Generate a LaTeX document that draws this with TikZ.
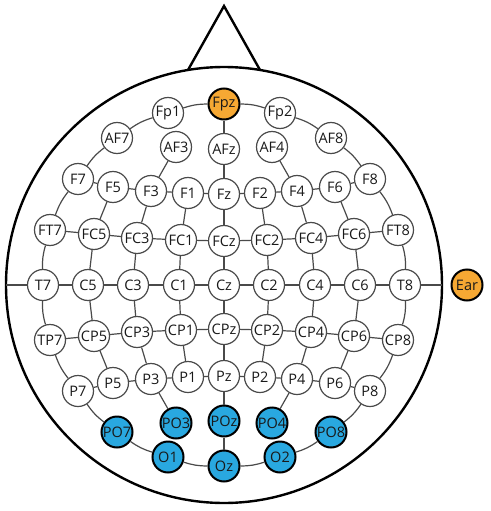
\documentclass[tikz,border=0pt]{standalone}
\usepackage{fontspec}
\setmainfont{Open Sans}
\definecolor{eegblue}{HTML}{29A8E0}
\definecolor{eegorange}{HTML}{F6A833}
\definecolor{linegray}{HTML}{4A4A4A}
\begin{document}
\begin{tikzpicture}[x=1pt,y=1pt,
  el/.style={circle,draw=linegray,line width=1.2pt,fill=white,minimum size=31pt,inner sep=0pt,font=\fontsize{14.5}{14.5}\selectfont,text=black!90},
  blueel/.style={el,draw=black,line width=2pt,fill=eegblue},
  orangeel/.style={el,draw=black,line width=2pt,fill=eegorange},
  conn/.style={draw=linegray,line width=1.2pt},
  ring/.style={conn,bend right=9},
  headline/.style={draw=black,line width=2.4pt}]
\useasboundingbox (0,0) rectangle (490,-511);
% head
\coordinate (hc) at (224,-285);
\coordinate (apex) at (224,-6);
\coordinate (noseL) at (188,-70);
\coordinate (noseR) at (260,-70);
\coordinate (headL) at (6,-285);
\coordinate (headR) at (442,-285);
\draw[headline] (hc) circle[radius=218];
\draw[headline,line join=miter] (noseL) -- (apex) -- (noseR);
% nodes
\node[orangeel] (Fpz) at (224,-104) {Fpz};
\node[el] (Fp1) at (168,-113) {Fp1};
\node[el] (Fp2) at (280,-113) {Fp2};
\node[el] (AF7) at (117,-138) {AF7};
\node[el] (AF3) at (176,-147) {AF3};
\node[el] (AFz) at (224,-149) {AFz};
\node[el] (AF4) at (272,-147) {AF4};
\node[el] (AF8) at (331,-138) {AF8};
\node[el] (F7) at (78,-179) {F7};
\node[el] (F5) at (113,-187) {F5};
\node[el] (F3) at (151,-191) {F3};
\node[el] (F1) at (188,-193) {F1};
\node[el] (Fz) at (224,-194) {Fz};
\node[el] (F2) at (260,-193) {F2};
\node[el] (F4) at (297,-191) {F4};
\node[el] (F6) at (335,-187) {F6};
\node[el] (F8) at (370,-179) {F8};
\node[el] (FT7) at (50,-230) {FT7};
\node[el] (FC5) at (94,-234) {FC5};
\node[el] (FC3) at (137,-238) {FC3};
\node[el] (FC1) at (181,-240) {FC1};
\node[el] (FCz) at (224,-241) {FCz};
\node[el] (FC2) at (267,-240) {FC2};
\node[el] (FC4) at (311,-238) {FC4};
\node[el] (FC6) at (354,-234) {FC6};
\node[el] (FT8) at (398,-230) {FT8};
\node[el] (T7) at (43,-285) {T7};
\node[el] (C5) at (88,-285) {C5};
\node[el] (C3) at (133,-285) {C3};
\node[el] (C1) at (179,-285) {C1};
\node[el] (Cz) at (224,-285) {Cz};
\node[el] (C2) at (269,-285) {C2};
\node[el] (C4) at (315,-285) {C4};
\node[el] (C6) at (360,-285) {C6};
\node[el] (T8) at (405,-285) {T8};
\node[el] (TP7) at (50,-340) {TP7};
\node[el] (CP5) at (94,-336) {CP5};
\node[el] (CP3) at (137,-332) {CP3};
\node[el] (CP1) at (181,-330) {CP1};
\node[el] (CPz) at (224,-329) {CPz};
\node[el] (CP2) at (267,-330) {CP2};
\node[el] (CP4) at (311,-332) {CP4};
\node[el] (CP6) at (354,-336) {CP6};
\node[el] (CP8) at (398,-340) {CP8};
\node[el] (P7) at (78,-391) {P7};
\node[el] (P5) at (113,-383) {P5};
\node[el] (P3) at (151,-379) {P3};
\node[el] (P1) at (188,-377) {P1};
\node[el] (Pz) at (224,-376) {Pz};
\node[el] (P2) at (260,-377) {P2};
\node[el] (P4) at (297,-379) {P4};
\node[el] (P6) at (335,-383) {P6};
\node[el] (P8) at (370,-391) {P8};
\node[blueel] (PO7) at (117,-432) {PO7};
\node[blueel] (PO3) at (176,-423) {PO3};
\node[blueel] (POz) at (224,-421) {POz};
\node[blueel] (PO4) at (272,-423) {PO4};
\node[blueel] (PO8) at (331,-432) {PO8};
\node[blueel] (O1) at (168,-457) {O1};
\node[blueel] (Oz) at (224,-466) {Oz};
\node[blueel] (O2) at (280,-457) {O2};
\begin{scope}
\clip (400,-250) rectangle (484,-320);
\node[orangeel] (Ear) at (467,-285) {Ear};
\end{scope}
% ring (counterclockwise)
\draw[ring] (Fpz) to (Fp1);
\draw[ring] (Fp1) to (AF7);
\draw[ring] (AF7) to (F7);
\draw[ring] (F7) to (FT7);
\draw[ring] (FT7) to (T7);
\draw[ring] (T7) to (TP7);
\draw[ring] (TP7) to (P7);
\draw[ring] (P7) to (PO7);
\draw[ring] (PO7) to (O1);
\draw[ring] (O1) to (Oz);
\draw[ring] (Oz) to (O2);
\draw[ring] (O2) to (PO8);
\draw[ring] (PO8) to (P8);
\draw[ring] (P8) to (CP8);
\draw[ring] (CP8) to (T8);
\draw[ring] (T8) to (FT8);
\draw[ring] (FT8) to (F8);
\draw[ring] (F8) to (AF8);
\draw[ring] (AF8) to (Fp2);
\draw[ring] (Fp2) to (Fpz);
% rows
\draw[conn] (F7) -- (F5) -- (F3) -- (F1) -- (Fz) -- (F2) -- (F4) -- (F6) -- (F8);
\draw[conn] (FT7) -- (FC5) -- (FC3) -- (FC1) -- (FCz) -- (FC2) -- (FC4) -- (FC6) -- (FT8);
\draw[conn] (headL) -- (T7) -- (C5) -- (C3) -- (C1) -- (Cz) -- (C2) -- (C4) -- (C6) -- (T8) -- (headR);
\draw[conn] (TP7) -- (CP5) -- (CP3) -- (CP1) -- (CPz) -- (CP2) -- (CP4) -- (CP6) -- (CP8);
\draw[conn] (P7) -- (P5) -- (P3) -- (P1) -- (Pz) -- (P2) -- (P4) -- (P6) -- (P8);
% columns
\draw[conn] (F5) -- (FC5) -- (C5) -- (CP5) -- (P5);
\draw[conn] (AF3) -- (F3) -- (FC3) -- (C3) -- (CP3) -- (P3) -- (PO3);
\draw[conn] (F1) -- (FC1) -- (C1) -- (CP1) -- (P1);
\draw[conn] (Fpz) -- (AFz) -- (Fz) -- (FCz) -- (Cz) -- (CPz) -- (Pz) -- (POz) -- (Oz);
\draw[conn] (F2) -- (FC2) -- (C2) -- (CP2) -- (P2);
\draw[conn] (AF4) -- (F4) -- (FC4) -- (C4) -- (CP4) -- (P4) -- (PO4);
\draw[conn] (F6) -- (FC6) -- (C6) -- (CP6) -- (P6);
\end{tikzpicture}
\end{document}
